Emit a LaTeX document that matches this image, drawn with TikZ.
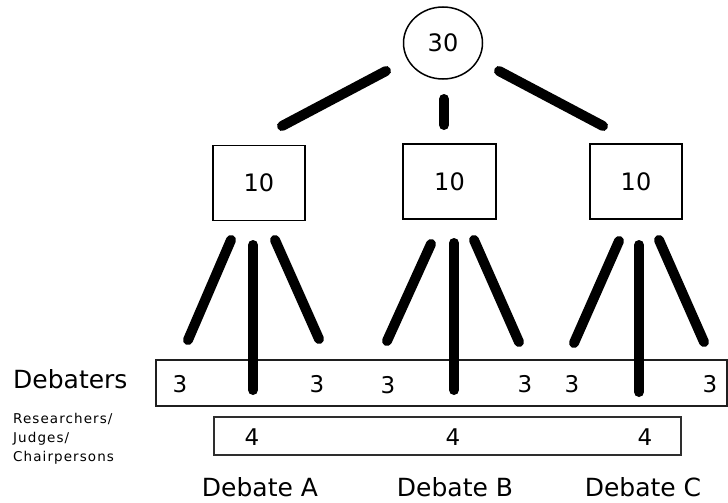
\documentclass[tikz,border=0pt]{standalone}
\usepackage{fontspec}
\setmainfont{DejaVu Sans}
\newfontfamily\smallspaced[LetterSpace=8]{DejaVu Sans}
\usetikzlibrary{shapes.geometric}
\begin{document}
\begin{tikzpicture}[x=1pt,y=-1pt,
  bigtext/.style={font=\fontsize{25}{30}\selectfont, inner sep=0pt},
  numtext/.style={font=\fontsize{23}{28}\selectfont, inner sep=0pt},
  topnode/.style={draw, line width=1.5pt, ellipse, minimum width=79pt, minimum height=72pt, inner sep=0pt, font=\fontsize{24}{28}\selectfont},
  tenbox/.style={draw, line width=1.8pt, rectangle, minimum width=92pt, minimum height=75pt, inner sep=0pt, font=\fontsize{24}{28}\selectfont},
  rowbox/.style={draw=black!88, line width=2pt, rectangle, inner sep=0pt},
  branch/.style={line width=10pt, line cap=round}
]
\useasboundingbox (0,0) rectangle (728,503);

% top node and boxes
\node[topnode] (top) at (443,43) {30};
\node[tenbox] (ba) at (259,183) {10};
\node[tenbox, minimum width=93pt] (bb) at (449.5,181.5) {10};
\node[tenbox] (bc) at (636,181.5) {10};

% row boxes
\node[rowbox, minimum width=571pt, minimum height=46pt] (deb) at (441.5,383) {};
\node[rowbox, draw=black!82, minimum width=467pt, minimum height=38pt] (res) at (447.5,436) {};

% branch end points
\coordinate (t1) at (386,71);   \coordinate (t1e) at (282,126);
\coordinate (t2) at (444,99);   \coordinate (t2e) at (444,125);
\coordinate (t3) at (499,71);   \coordinate (t3e) at (603,126);

\coordinate (a1) at (231,240);  \coordinate (a1e) at (188,340);
\coordinate (a2) at (253,245);  \coordinate (a2e) at (253,390);
\coordinate (a3) at (275,240);  \coordinate (a3e) at (319,339);

\coordinate (b1) at (431,244);  \coordinate (b1e) at (387,341);
\coordinate (b2) at (454,243);  \coordinate (b2e) at (454,390);
\coordinate (b3) at (474,240);  \coordinate (b3e) at (519,342);

\coordinate (c1) at (619,241);  \coordinate (c1e) at (574,343);
\coordinate (c2) at (639,245);  \coordinate (c2e) at (639,392);
\coordinate (c3) at (659,240);  \coordinate (c3e) at (704,342);

\draw[branch] (t1) -- (t1e);
\draw[branch] (t2) -- (t2e);
\draw[branch] (t3) -- (t3e);
\draw[branch] (a1) -- (a1e);
\draw[branch] (a2) -- (a2e);
\draw[branch] (a3) -- (a3e);
\draw[branch] (b1) -- (b1e);
\draw[branch] (b2) -- (b2e);
\draw[branch] (b3) -- (b3e);
\draw[branch] (c1) -- (c1e);
\draw[branch] (c2) -- (c2e);
\draw[branch] (c3) -- (c3e);

% debater counts
\node[numtext] (da1) at (180,384) {3};
\node[numtext] (da2) at (317,384) {3};
\node[numtext] (db1) at (388,385) {3};
\node[numtext] (db2) at (525,384) {3};
\node[numtext] (dc1) at (572,384) {3};
\node[numtext] (dc2) at (710,384) {3};

% researcher counts
\node[numtext] (ra) at (252,437) {4};
\node[numtext] (rb) at (453,437) {4};
\node[numtext] (rc) at (645,437) {4};

% labels
\node[bigtext, anchor=base west] (lbldeb) at (13,388) {Debaters};
\node[anchor=north west, inner sep=0pt, align=left,
      font=\smallspaced\fontsize{13.5}{19}\selectfont] (lblres) at (13,413)
      {Researchers/\\Judges/\\Chairpersons};

\node[bigtext, text depth=0pt, anchor=base] (dA) at (260,496) {Debate A};
\node[bigtext, text depth=0pt, anchor=base] (dB) at (455,496) {Debate B};
\node[bigtext, text depth=0pt, anchor=base] (dC) at (643,496) {Debate C};
\end{tikzpicture}
\end{document}
